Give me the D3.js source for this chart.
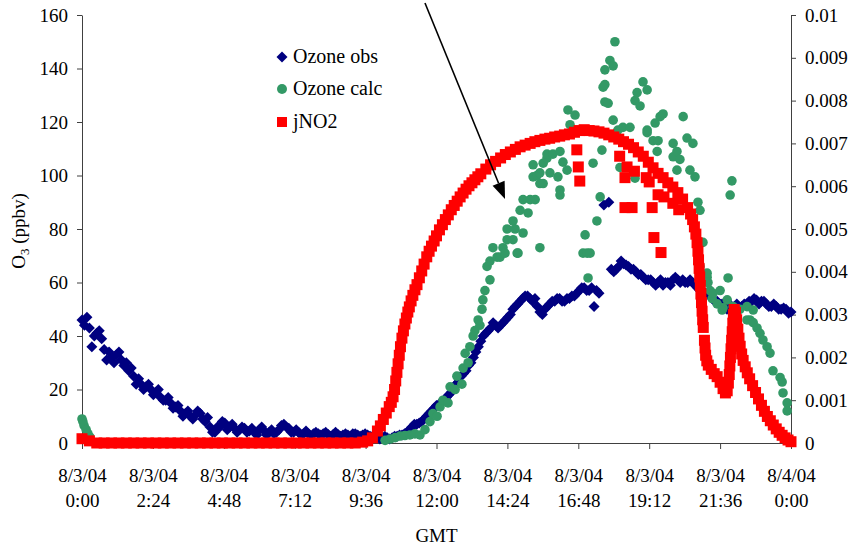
<!DOCTYPE html>
<html>
<head>
<meta charset="utf-8">
<script src="https://cdn.jsdelivr.net/npm/d3@7"></script>
<style>
  html, body { margin: 0; padding: 0; background: #fff; overflow: hidden; }
  svg { display: block; }
  svg text { font-family: "Liberation Serif", "DejaVu Serif", serif; fill: #000; }
  .axis text { font-size: 19px; }
  .axis path, .axis line { stroke: #404040; }
</style>
</head>
<body>
<svg id="chart"></svg>
<script>
// ---- data (hours after 8/3/04 0:00 GMT) ----

// Ozone obs, ppbv, one value every 10 minutes from 0:00 to 24:00
var obsStepHours = 1 / 6;
var obsValues = [
  46, 47, 36, 41, 39, 31, 32, 33, 31, 30, 28, 22, 22, 21, 20, 19, 17, 16, 15, 13.5,
  12, 11, 10, 10.5, 11, 8, 6, 4, 6, 7.5, 6, 5.5, 5, 5.5, 4.5, 4, 5, 4.5, 4, 3.5,
  5, 7, 5.5, 4, 4, 3.5, 3.5, 3.5, 3.5, 3.5, 3.2, 3.2, 3.2, 3, 3, 3.5, 3, 3, 3, 2.5,
  2, 2, 2, 2, 2.5, 3, 4, 6, 7, 8, 10, 12, 14, 15, 17, 19, 22, 25, 27, 30,
  34, 38, 41, 43, 44, 44, 46, 48, 51, 53, 55, 54, 54, 49, 50, 52, 53, 54, 53, 54,
  55, 57, 58, 57, 51, 56, 89, 90, 64, 66, 67, 66, 65, 63, 62, 61, 60, 60, 59, 60,
  61, 61, 61, 60, 60, 58, 57, 56, 54, 53, 52, 50, 36, 52, 51, 52, 53, 53.5, 53, 52,
  51, 51, 50, 50, 49
];
// Ozone obs, the readings 5 minutes after each of the above (null = no reading)
var obsValuesB = [
  44, 43, 40, 42, 35, 34, 30, 34, 29, 27, 25, 24, 20, 22, 18, 20, 16, 17, 13, 14,
  10, 12, 9, 12, 9, 9.5, 4, 6, 8, 5, 7, 4, 6, 4, 5.5, 3, 6, 3, 5, 4,
  6.5, 6, 4, 5, 3, 4.5, 2.5, 4, 3, 4, 2.5, 4, 2.5, 3.5, 2.5, 3.5, 2.5, 3.5, 2.5, 2.5,
  1.5, 2.5, 1.5, 2.5, 3, 3.5, 5, 7, 7.5, 9, 11, 13, 14.5, 16, 18, 21, 23, 26, 29, 32,
  36, 40, 42, 45, 43, 45, 47, 50, 52, 54, 55, 53, 51, 48, 51, 53, 54, 53, 54, 55,
  56, 58, 57, 58, 57, null, null, 65, 65, 68, 66.5, 65, 64, 63, 61, 61, 59, 61, 60, 59,
  62, 60, 60, 61, 59, 57, 56, 55, 53, 52, 51, 52, 51, 50, 52, 53, 54, 52, 53, 51,
  52, 50, 50.5, 48.5
];

// Ozone calc, ppbv
var calcHours = [
  0.00, 0.03, 0.07, 0.14, 0.20, 0.27,
  10.26, 10.43, 10.60, 10.77, 10.93, 11.10, 11.27, 11.44, 11.61, 11.78, 11.88, 12.02, 12.12, 12.22,
  12.39, 12.46, 12.63, 12.69, 12.86, 12.90, 12.97, 13.07, 13.13, 13.24, 13.30, 13.41, 13.47, 13.54,
  13.57, 13.64, 13.71, 13.81, 13.81, 13.91, 14.05, 14.15, 14.25, 14.32, 14.39, 14.39, 14.59, 14.59,
  14.66, 14.73, 14.76, 14.83, 14.93, 14.93, 15.10, 15.17, 15.27, 15.27, 15.34, 15.40, 15.50, 15.50,
  15.50, 15.61, 15.61, 15.74, 15.74, 15.84, 15.94, 16.11, 16.18, 16.18, 16.18, 16.28, 16.42, 16.45,
  16.52, 16.69, 16.96, 17.03, 17.10, 17.13, 17.20, 17.30, 17.43, 17.54, 17.60, 17.64, 17.70, 17.70,
  17.70, 17.81, 17.87, 17.98, 18.04, 17.98, 18.14, 18.21, 18.31, 18.55, 18.72, 18.72, 18.79, 18.89,
  18.99, 19.13, 19.13, 19.13, 19.33, 19.40, 19.47, 19.50, 19.57, 19.67, 20.01, 20.01, 20.14, 20.14,
  20.24, 20.35, 20.48, 20.58, 20.68, 20.75, 20.85, 20.92, 21.02, 20.92, 21.16, 21.16, 21.19, 21.26,
  21.33, 21.36, 21.50, 21.60, 21.70, 21.67, 21.84, 21.87, 21.94, 22.00, 22.04, 22.27, 22.51, 22.51,
  22.61, 22.72, 22.72, 22.85, 22.95, 23.05, 23.19, 23.29, 23.39, 23.63, 23.70, 23.73, 23.87, 23.87
];
var calcValues = [
  9, 8, 6.5, 5, 3.5, 2.2,
  1, 1.5, 2, 2.6, 2.8, 3, 3.4, 3, 5, 8, 11, 10, 13.5, 16,
  15, 21, 20, 25, 22, 28, 33.5, 30, 36, 40, 42, 46, 44, 50,
  53.5, 57, 66, 61, 68, 73, 69.5, 69.5, 73, 71, 76, 80, 83, 76,
  80, 71, 71, 87, 91, 78.5, 86, 91, 99.5, 104, 91, 100, 97, 101,
  73, 104.6, 97, 106.5, 108, 101, 108, 99.5, 109, 94.6, 92.7, 105, 102, 124.5,
  119, 122.6, 71, 77.8, 71, 61.7, 71, 104.6, 83, 92, 109.5, 133, 139.5, 127.5,
  134, 127, 143, 141, 150, 120.7, 117, 103, 118, 118, 128, 99, 131, 126,
  135, 132, 116, 117, 113, 119.6, 109, 113, 122, 123, 112, 107, 102, 109,
  106, 122, 114, 102, 112, 99.5, 90, 87, 75, 66, 62, 63.5, 60, 57,
  54, 56, 52, 57, 50.5, 49.7, 53.5, 61.7, 92.7, 98, 51, 50, 51, 46,
  46, 49.7, 45, 43, 41, 38.5, 36, 33.6, 27, 24.5, 22.8, 18.7, 15, 12
];

// jNO2, 1/s (secondary axis)
var jHours = [
  0, 0.25, 0.5, 0.75, 1, 1.25, 1.5, 1.75, 2, 2.25, 2.5, 2.75, 3, 3.25, 3.5, 3.75, 4, 4.25, 4.5, 4.75,
  5, 5.25, 5.5, 5.75, 6, 6.25, 6.5, 6.75, 7, 7.25, 7.5, 7.75, 8, 8.25, 8.5, 8.75, 9, 9.25,
  9.5, 9.67, 9.83, 10.0, 10.1, 10.2, 10.3, 10.4, 10.47, 10.53, 10.58, 10.62, 10.66, 10.7, 10.74, 10.78,
  10.83, 10.88, 10.93, 10.98, 11.03, 11.08, 11.14, 11.2, 11.27, 11.34, 11.42, 11.5, 11.58, 11.67, 11.75, 11.83,
  11.92, 12.0, 12.1, 12.2, 12.3, 12.4, 12.5, 12.6, 12.7, 12.8, 12.9, 13.0, 13.1, 13.2, 13.3, 13.4,
  13.5, 13.67, 13.83, 14.0, 14.17, 14.33, 14.5, 14.67, 14.83, 15.0, 15.17, 15.33, 15.5, 15.67, 15.83, 16.0,
  16.17, 16.33, 16.5, 16.67, 16.83, 17.0, 17.17, 17.33, 17.5, 17.67, 17.83, 18.0, 18.17, 18.33, 18.5, 18.67,
  18.83, 19.0, 19.17, 19.33, 19.5, 19.67, 19.83, 20.0, 20.17, 20.33, 20.5, 20.6, 20.67, 20.73, 20.78, 20.82,
  20.85, 20.87, 20.89, 20.91, 20.93, 20.95, 20.97, 20.99, 21.01, 21.03, 21.07, 21.09, 21.11, 21.15, 21.2, 21.3,
  21.4, 21.5, 21.6, 21.7, 21.78, 21.84, 21.88, 21.91, 21.93, 21.95, 21.97, 21.99, 22.01, 22.03, 22.05, 22.08,
  22.12, 22.16, 22.2, 22.24, 22.28, 22.33, 22.38, 22.45, 22.52, 22.6, 22.7, 22.8, 22.9, 23.0, 23.1, 23.2,
  23.3, 23.4, 23.5, 23.6, 23.7, 23.8, 23.9, 24.0,
  // scattered readings off the main band
  16.75, 16.8, 16.85, 18.2, 18.38, 18.45, 18.38, 18.62, 18.7, 19.1, 19.2, 19.3, 19.36, 19.5, 19.6, 19.7, 20.0, 20.2
];
var jValues = [
  0.0001, 0.00005, 0, 0, 0, 0, 0, 0, 0, 0, 0, 0, 0, 0, 0, 0, 0, 0, 0, 0,
  0, 0, 0, 0, 0, 0, 0, 0, 0, 0, 0, 0, 0, 0, 0, 0, 0, 0,
  0.00002, 0.00005, 0.00012, 0.00028, 0.0004, 0.00055, 0.0007, 0.00085, 0.00095, 0.00108, 0.00125, 0.00145, 0.00165, 0.00185, 0.00205, 0.00225,
  0.00245, 0.00262, 0.00278, 0.00292, 0.00306, 0.00318, 0.00332, 0.00345, 0.00358, 0.0037, 0.00386, 0.00402, 0.00418, 0.00435, 0.00448, 0.0046,
  0.00472, 0.00484, 0.00498, 0.0051, 0.00522, 0.00533, 0.00545, 0.00555, 0.00565, 0.00575, 0.00584, 0.00593, 0.00601, 0.00608, 0.00615, 0.00622,
  0.00629, 0.0064, 0.0065, 0.00658, 0.00666, 0.00674, 0.0068, 0.00686, 0.00692, 0.00696, 0.007, 0.00704, 0.00707, 0.0071, 0.00712, 0.00715,
  0.00717, 0.0072, 0.00722, 0.00726, 0.0073, 0.00732, 0.0073, 0.00729, 0.00727, 0.00724, 0.0072, 0.00715, 0.0071, 0.00704, 0.00698, 0.0069,
  0.0068, 0.0067, 0.00656, 0.00643, 0.0063, 0.0062, 0.00608, 0.00598, 0.00585, 0.0057, 0.0055, 0.00535, 0.00522, 0.00505, 0.00488, 0.00468,
  0.00448, 0.00428, 0.00408, 0.00388, 0.00368, 0.00348, 0.00328, 0.00308, 0.00288, 0.0027, 0.0024, 0.00222, 0.00205, 0.00192, 0.00182, 0.00172,
  0.00162, 0.00155, 0.00142, 0.00127, 0.00117, 0.00122, 0.0014, 0.0016, 0.0018, 0.002, 0.0022, 0.0024, 0.0026, 0.0028, 0.003, 0.00312,
  0.00305, 0.00288, 0.00266, 0.00245, 0.00226, 0.00208, 0.00193, 0.00178, 0.00164, 0.0015, 0.00134, 0.00118, 0.00103, 0.00088, 0.00074, 0.00062,
  0.00052, 0.00042, 0.00033, 0.00025, 0.00018, 0.00012, 0.00007, 0.00003,
  0.00685, 0.00645, 0.00612, 0.0067, 0.0062, 0.00645, 0.0055, 0.0055, 0.00635, 0.0062, 0.0061, 0.0055, 0.0048, 0.0058, 0.00445, 0.00575, 0.0056, 0.00545
];

// axes
var leftTicks = [0, 20, 40, 60, 80, 100, 120, 140, 160];
var rightTicks = [0, 0.001, 0.002, 0.003, 0.004, 0.005, 0.006, 0.007, 0.008, 0.009, 0.01];
var rightTickLabels = ["0", "0.001", "0.002", "0.003", "0.004", "0.005", "0.006", "0.007", "0.008", "0.009", "0.01"];
var xTicks = [0, 2.4, 4.8, 7.2, 9.6, 12, 14.4, 16.8, 19.2, 21.6, 24];
var xTickDates = ["8/3/04", "8/3/04", "8/3/04", "8/3/04", "8/3/04", "8/3/04", "8/3/04", "8/3/04", "8/3/04", "8/3/04", "8/4/04"];
var xTickTimes = ["0:00", "2:24", "4:48", "7:12", "9:36", "12:00", "14:24", "16:48", "19:12", "21:36", "0:00"];

var seriesNames = ["Ozone obs", "Ozone calc", "jNO2"];
var seriesColors = ["#000080", "#339966", "#ff0000"];

// arrow annotation, in data units (hours, ppbv)
var arrowFrom = [11.61, 164.5];
var arrowTo = [14.32, 91.2];

// ---- drawing ----
var fontFamily = "'Liberation Serif', 'DejaVu Serif', serif";
var outerWidth = 850;
var outerHeight = 544;
var margin = { left: 82, top: 15, right: 59, bottom: 101 };
var innerWidth = outerWidth - margin.left - margin.right;
var innerHeight = outerHeight - margin.top - margin.bottom;

var svg = d3.select("#chart")
  .attr("width", outerWidth)
  .attr("height", outerHeight);

var g = svg.append("g")
  .attr("transform", "translate(" + margin.left + "," + margin.top + ")");

var xScale = d3.scaleLinear().domain([0, 24]).range([0, innerWidth]);
var yLeft = d3.scaleLinear().domain([0, 160]).range([innerHeight, 0]);
var yRight = d3.scaleLinear().domain([0, 0.01]).range([innerHeight, 0]);

// left axis
var yAxisG = g.append("g").attr("class", "axis")
  .call(d3.axisLeft(yLeft).tickValues(leftTicks).tickSize(5).tickSizeOuter(0).tickPadding(9));

// right axis
var yAxis2G = g.append("g").attr("class", "axis")
  .attr("transform", "translate(" + innerWidth + ",0)")
  .call(d3.axisRight(yRight).tickValues(rightTicks).tickSize(5).tickSizeOuter(0).tickPadding(9)
    .tickFormat(function (d, i) { return rightTickLabels[i]; }));

// bottom axis with two-line labels
var xAxisG = g.append("g").attr("class", "axis")
  .attr("transform", "translate(0," + innerHeight + ")")
  .call(d3.axisBottom(xScale).tickValues(xTicks).tickSize(6).tickSizeOuter(0).tickFormat(""));
xAxisG.selectAll(".tick text").remove();
xAxisG.selectAll(".tick").each(function (d, i) {
  var t = d3.select(this).append("text")
    .attr("text-anchor", "middle");
  t.append("tspan").attr("x", 0).attr("y", 39).text(xTickDates[i]);
  t.append("tspan").attr("x", 0).attr("y", 64).text(xTickTimes[i]);
});

g.selectAll(".axis")
  .attr("font-family", fontFamily)
  .attr("font-size", 19);

// Ozone obs - diamonds
var diamond = "M0,-5.5L5.5,0L0,5.5L-5.5,0Z";
var obsG = g.append("g");
obsG.selectAll("path.a").data(obsValues).enter().append("path")
  .attr("class", "a")
  .attr("d", diamond)
  .attr("fill", seriesColors[0])
  .attr("transform", function (d, i) {
    return "translate(" + xScale(i * obsStepHours) + "," + yLeft(d) + ")";
  });
obsG.selectAll("path.b")
  .data(obsValuesB.map(function (d, i) { return { h: (i + 0.5) * obsStepHours, v: d }; })
    .filter(function (d) { return d.v !== null; }))
  .enter().append("path")
  .attr("class", "b")
  .attr("d", diamond)
  .attr("fill", seriesColors[0])
  .attr("transform", function (d) {
    return "translate(" + xScale(d.h) + "," + yLeft(d.v) + ")";
  });

// Ozone calc - circles
g.append("g").selectAll("circle").data(calcValues).enter().append("circle")
  .attr("cx", function (d, i) { return xScale(calcHours[i]); })
  .attr("cy", function (d) { return yLeft(d); })
  .attr("r", 4.8)
  .attr("fill", seriesColors[1]);

// jNO2 - squares
g.append("g").selectAll("rect").data(jValues).enter().append("rect")
  .attr("x", function (d, i) { return xScale(jHours[i]) - 5.5; })
  .attr("y", function (d) { return yRight(d) - 5.5; })
  .attr("width", 11)
  .attr("height", 11)
  .attr("fill", seriesColors[2]);

// legend
var legend = svg.append("g").attr("transform", "translate(282,57)");
var legendRows = legend.selectAll("g").data(seriesNames).enter().append("g")
  .attr("transform", function (d, i) { return "translate(0," + [0, 32, 65][i] + ")"; });
legendRows.each(function (d, i) {
  var row = d3.select(this);
  if (i === 0) row.append("path").attr("d", "M0,-5.5L5.5,0L0,5.5L-5.5,0Z").attr("fill", seriesColors[0]);
  if (i === 1) row.append("circle").attr("r", 5).attr("fill", seriesColors[1]);
  if (i === 2) row.append("rect").attr("x", -5).attr("y", -5).attr("width", 10).attr("height", 10).attr("fill", seriesColors[2]);
  row.append("text").attr("x", 11).attr("y", 6)
    .attr("font-family", fontFamily).attr("font-size", 20).text(d);
});

// arrow
var ax0 = xScale(arrowFrom[0]), ay0 = yLeft(arrowFrom[1]);
var ax1 = xScale(arrowTo[0]), ay1 = yLeft(arrowTo[1]);
var len = Math.sqrt((ax1 - ax0) * (ax1 - ax0) + (ay1 - ay0) * (ay1 - ay0));
var ux = (ax1 - ax0) / len, uy = (ay1 - ay0) / len;
var bx = ax1 - ux * 17, by = ay1 - uy * 17;
g.append("line")
  .attr("x1", ax0).attr("y1", ay0).attr("x2", bx).attr("y2", by)
  .attr("stroke", "#000").attr("stroke-width", 1.6);
g.append("path")
  .attr("d", "M" + ax1 + "," + ay1 +
    "L" + (bx - uy * 6.5) + "," + (by + ux * 6.5) +
    "L" + (bx + uy * 6.5) + "," + (by - ux * 6.5) + "Z")
  .attr("fill", "#000");

// axis titles
svg.append("text")
  .attr("x", margin.left + innerWidth / 2)
  .attr("y", 542)
  .attr("text-anchor", "middle")
  .attr("font-family", fontFamily).attr("font-size", 19)
  .text("GMT");

var yTitle = svg.append("text")
  .attr("transform", "translate(25,231) rotate(-90)")
  .attr("text-anchor", "middle")
  .attr("font-family", fontFamily).attr("font-size", 19);
yTitle.append("tspan").text("O");
yTitle.append("tspan").attr("dy", 4).attr("font-size", 13).text("3");
yTitle.append("tspan").attr("dy", -4).text(" (ppbv)");
</script>
</body>
</html>
